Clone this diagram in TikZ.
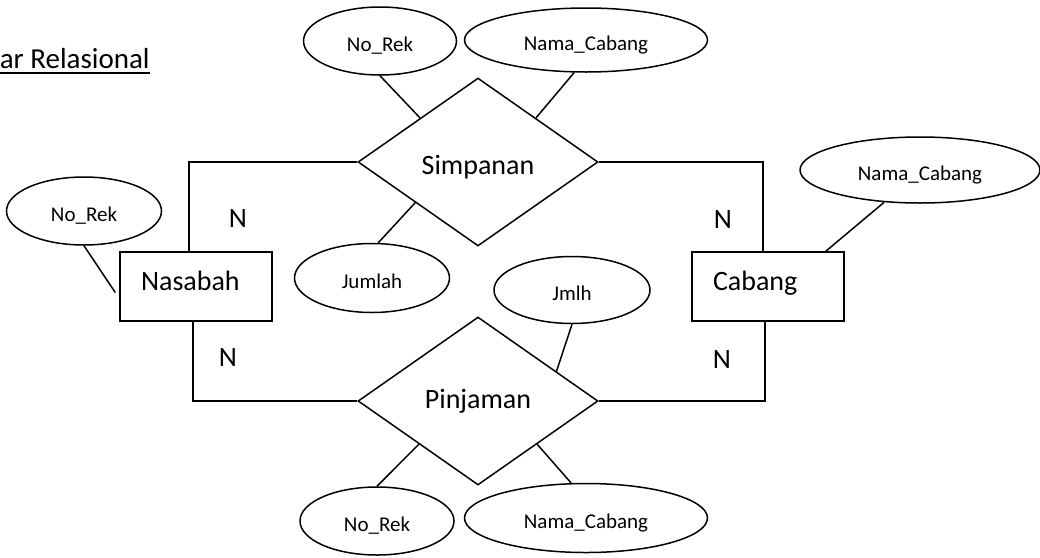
\documentclass[tikz,border=0pt]{standalone}
\usepackage{fontspec}
\setmainfont{Carlito}
\usetikzlibrary{shapes.geometric,calc}
\tikzset{
  entitas/.style={draw, rectangle, minimum height=69pt, text width=110pt, text depth=12pt, inner xsep=21pt, inner ysep=0pt, align=left, font=\fontsize{28}{34}\selectfont},
  relasi/.style={draw, diamond, minimum width=240pt, minimum height=168pt, inner sep=0pt, font=\fontsize{28}{34}\selectfont},
  atribut/.style={draw, ellipse, inner sep=0pt, text height=21pt, text depth=0pt, font=\fontsize{21}{25}\selectfont},
  kard/.style={font=\fontsize{28}{34}\selectfont},
}
\begin{document}
\begin{tikzpicture}[x=1pt,y=-1pt,line width=1.5pt]
  \useasboundingbox (0,0) rectangle (1040,557);
  % judul
  \node[anchor=base west,inner sep=0pt,font=\fontsize{29}{35}\selectfont] (judul) at (-1,68) {ar Relasional};
  \draw[line width=2pt] ([yshift=-5pt]judul.base west) -- ([yshift=-5pt]judul.base east);
  % entitas
  \node[entitas] (nasabah) at (196,286.5) {Nasabah};
  \node[entitas] (cabang) at (768,286.5) {Cabang};
  % relasi
  \node[relasi, text height=24pt, text depth=0pt] (simpanan) at (478,162) {Simpanan};
  \node[relasi] (pinjaman) at (478,401) {Pinjaman};
  % atribut
  \node[atribut, minimum width=153pt, minimum height=68pt] (norekA) at (380,41) {No\_Rek};
  \node[atribut, minimum width=243pt, minimum height=64pt] (namaA) at (586,40) {Nama\_Cabang};
  \node[atribut, minimum width=155pt, minimum height=68pt] (norekB) at (84,211) {No\_Rek};
  \node[atribut, minimum width=240pt, minimum height=66pt] (namaB) at (920,170) {Nama\_Cabang};
  \node[atribut, minimum width=155pt, minimum height=69pt] (jumlah) at (372,278) {Jumlah};
  \node[atribut, minimum width=156pt, minimum height=67pt] (jmlh) at (572,290) {Jmlh};
  \node[atribut, minimum width=154pt, minimum height=68pt] (norekC) at (377,521) {No\_Rek};
  \node[atribut, minimum width=243pt, minimum height=69pt] (namaC) at (586,518) {Nama\_Cabang};
  % garis relasi
  \draw (simpanan.west) -| ([xshift=-7pt]nasabah.north);
  \draw (simpanan.east) -| ([xshift=-5pt]cabang.north);
  \draw (pinjaman.west) -| ([xshift=-3pt]nasabah.south);
  \draw (pinjaman.east) -| ([xshift=-3pt]cabang.south);
  % kardinalitas
  \node[kard] (n1) at (238,219) {N};
  \node[kard] (n2) at (723,220) {N};
  \node[kard] (n3) at (228,358) {N};
  \node[kard] (n4) at (722,360) {N};
  % garis atribut
  \draw (norekA.south) -- ($(simpanan.north)!0.48!(simpanan.west)$);
  \draw (namaA.250) -- ($(simpanan.north)!0.48!(simpanan.east)$);
  \draw (jumlah.80) -- ($(simpanan.west)!0.48!(simpanan.south)$);
  \draw (norekB.south) -- ([xshift=-4pt,yshift=-6pt]nasabah.west);
  \draw (namaB.222) -- ([xshift=-19pt]cabang.north east);
  \draw (jmlh.south) -- ($(pinjaman.north)!0.65!(pinjaman.east)$);
  \draw (norekC.north) -- ($(pinjaman.west)!0.51!(pinjaman.south)$);
  \draw (namaC.113) -- ($(pinjaman.east)!0.51!(pinjaman.south)$);
\end{tikzpicture}
\end{document}
